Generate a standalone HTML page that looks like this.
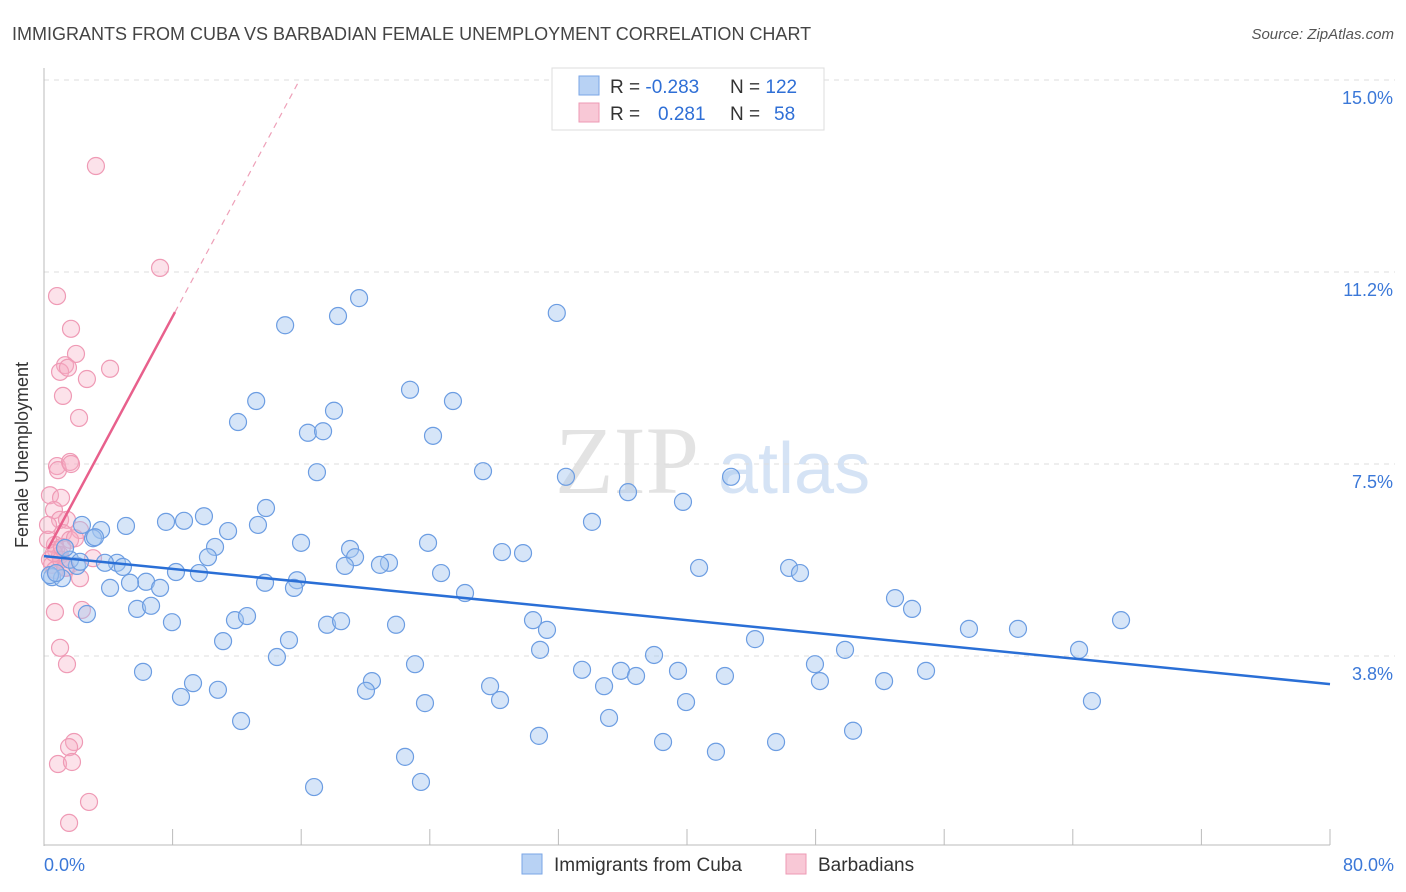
<!DOCTYPE html>
<html><head><meta charset="utf-8"><style>
body{margin:0;background:#fff;font-family:"Liberation Sans",sans-serif;}
#wrap{position:relative;width:1406px;height:892px;overflow:hidden;}
</style></head><body>
<div id="wrap">
<svg id="svg" width="1406" height="892" xmlns="http://www.w3.org/2000/svg" font-family="Liberation Sans, sans-serif">
<text x="12" y="40" font-size="18" fill="#444">IMMIGRANTS FROM CUBA VS BARBADIAN FEMALE UNEMPLOYMENT CORRELATION CHART</text>
<text x="1394" y="39" font-size="15" fill="#555" font-style="italic" text-anchor="end">Source: ZipAtlas.com</text>
<g>
<text x="555" y="493" font-size="96" fill="#d8d8d8" font-family="Liberation Serif, serif" opacity="0.7">ZIP</text>
<text x="718" y="493" font-size="72" fill="#c4d8f2" opacity="0.7">atlas</text>
</g>
<g id="grid"></g>
<g id="axes"></g>
<g id="pts"></g>
<g id="lines"></g>
<text x="28" y="455" font-size="18" fill="#333" transform="rotate(-90 28 455)" text-anchor="middle">Female Unemployment</text>
<g>
<rect x="552" y="68" width="272" height="62" fill="#fff" stroke="#ddd"/>
<rect x="579" y="76" width="20" height="19" fill="#b8d2f4" stroke="#7aa6e6"/>
<rect x="579" y="103" width="20" height="19" fill="#f8c8d6" stroke="#ee9ab4"/>
<text x="610" y="93" font-size="19" fill="#333">R = <tspan fill="#2f6fd6">-0.283</tspan></text>
<text x="730" y="93" font-size="19" fill="#333">N = <tspan fill="#2f6fd6">122</tspan></text>
<text x="610" y="120" font-size="19" fill="#333">R = <tspan fill="#2f6fd6" x="658">0.281</tspan></text>
<text x="730" y="120" font-size="19" fill="#333">N = <tspan fill="#2f6fd6" x="774">58</tspan></text>
</g>
<g>
<rect x="522" y="854" width="20" height="20" fill="#b8d2f4" stroke="#7aa6e6"/>
<text x="554" y="871" font-size="19" fill="#333">Immigrants from Cuba</text>
<rect x="786" y="854" width="20" height="20" fill="#f8c8d6" stroke="#ee9ab4"/>
<text x="818" y="871" font-size="19" fill="#333">Barbadians</text>
</g>
</svg>
</div>
<script>
const xTicks=[0,8,16,24,32,40,48,56,64,72,80];
const yGrid=[15,11.25,7.5,3.75];
const yLabels=["15.0%","11.2%","7.5%","3.8%"];
const xLabels=["0.0%","80.0%"];
const cubaX=[15.0,18.29,19.6,31.9,13.2,12.07,18.04,16.42,17.36,22.77,25.44,24.2,16.98,27.31,32.47,42.74,36.33,39.75,13.81,9.95,7.59,8.71,5.1,3.55,2.36,3.05,13.31,11.45,34.09,15.99,10.64,10.2,4.54,4.91,3.79,2.05,0.5,1.12,19.04,19.35,18.72,21.46,20.9,23.89,28.49,29.8,40.75,46.35,47.03,8.21,9.64,6.35,5.35,7.22,4.11,13.75,15.74,15.55,24.7,26.19,5.79,6.66,2.67,7.96,11.88,12.63,17.61,18.48,21.9,30.42,31.29,52.94,54.0,57.54,60.59,67.0,15.24,11.14,44.23,49.83,64.39,37.95,30.86,14.49,23.08,6.16,33.47,35.89,36.83,39.44,42.36,47.96,48.27,54.87,52.26,9.27,8.52,10.82,20.4,20.03,27.75,28.37,34.84,39.94,23.7,65.19,12.26,35.15,30.79,38.51,41.8,45.54,50.33,22.46,16.8,23.45,0.37,1.62,1.31,2.24,0.75,3.17];
const cubaY=[10.21,10.39,10.74,10.45,8.73,8.32,8.54,8.11,8.14,8.95,8.73,8.05,7.34,7.36,7.25,7.25,6.95,6.76,6.64,6.48,6.37,6.39,6.29,6.21,6.31,6.05,6.31,6.19,6.37,5.96,5.88,5.68,5.57,5.49,5.57,5.51,5.29,5.27,5.84,5.68,5.51,5.57,5.53,5.96,5.78,5.76,5.47,5.47,5.37,5.39,5.37,5.2,5.18,5.08,5.08,5.18,5.23,5.08,5.37,4.98,4.67,4.73,4.57,4.41,4.45,4.53,4.36,4.43,4.36,4.45,4.26,4.88,4.67,4.28,4.28,4.45,4.06,4.04,4.08,3.87,3.87,3.77,3.87,3.73,3.59,3.44,3.48,3.46,3.36,3.46,3.36,3.59,3.26,3.46,3.26,3.22,2.95,3.09,3.26,3.07,3.16,2.89,3.16,2.85,2.83,2.87,2.48,2.54,2.19,2.07,1.88,2.07,2.29,1.78,1.19,1.29,5.33,5.63,5.86,5.59,5.37,6.07];
const barbX=[3.23,7.22,0.81,1.68,1.99,1.31,1.0,1.49,4.11,2.67,1.18,2.18,0.81,0.87,1.62,1.68,0.37,1.06,0.62,1.0,1.43,2.24,1.18,1.62,0.68,0.75,1.0,0.37,0.5,0.68,1.06,1.37,0.25,1.93,3.05,2.24,0.68,2.36,1.0,1.43,1.87,1.56,0.87,1.74,2.8,1.56,1.31,0.62,0.25,1.12];
const barbY=[13.32,11.33,10.78,10.14,9.65,9.43,9.3,9.38,9.36,9.16,8.83,8.4,7.46,7.38,7.54,7.5,6.89,6.84,6.6,6.41,6.41,6.21,6.15,6.02,5.92,5.82,5.72,5.63,5.53,5.43,5.63,5.47,6.02,6.05,5.66,5.27,4.61,4.65,3.91,3.59,2.07,1.97,1.64,1.68,0.9,0.49,5.47,5.76,6.31,5.88];
const cubaTrend=[5.70,3.20];
const barbTrend=[5.70,0.585];
const barbSolidEnd=8.15;

const X0=44,X1=1330,Y0=848,PPY=51.2;
const sx=v=>X0+(X1-X0)*v/80;
const sy=v=>Y0-v*PPY;
const NS="http://www.w3.org/2000/svg";
function mk(tag,attrs,parent){const e=document.createElementNS(NS,tag);for(const k in attrs)e.setAttribute(k,attrs[k]);document.getElementById(parent).appendChild(e);return e;}
yGrid.forEach((v,i)=>{
 const l=mk('line',{x1:44,x2:1395,y1:sy(v),y2:sy(v),stroke:'#ddd','stroke-dasharray':'5,5'},'grid');
 
 
 const t=mk('text',{x:1393,y:sy(v)+24,'font-size':18,fill:'#3b78d8','text-anchor':'end'},'grid');
 t.textContent=yLabels[i];
 
 
});
const ya=mk('line',{x1:44,x2:44,y1:68,y2:846,stroke:'#bbb'},'axes');


const xa=mk('line',{x1:44,x2:1330,y1:845,y2:845,stroke:'#bbb'},'axes');


xTicks.forEach(v=>{
 const t=mk('line',{x1:sx(v),x2:sx(v),y1:829,y2:845,stroke:'#bbb'},'axes');
 
 
});
[[0,'start',44],[80,'end',1394]].forEach((a,i)=>{
 const t=mk('text',{x:a[2],y:871,'font-size':18,fill:'#3b78d8','text-anchor':a[1]},'axes');
 t.textContent=xLabels[i];
 
 
});
barbX.forEach((v,i)=>{
 const c=mk('circle',{cx:sx(v),cy:sy(barbY[i]),r:8.5,fill:'rgba(246,172,196,0.35)',stroke:'#ef9ab5','stroke-width':1.2},'pts');
 
 
});
cubaX.forEach((v,i)=>{
 const c=mk('circle',{cx:sx(v),cy:sy(cubaY[i]),r:8.5,fill:'rgba(165,198,240,0.45)',stroke:'#6c9de2','stroke-width':1.2},'pts');
 
 
});
const bl=mk('line',{x1:sx(0),y1:sy(cubaTrend[0]),x2:sx(80),y2:sy(cubaTrend[1]),stroke:'#2a6fd6','stroke-width':2.5},'lines');


const pf=x=>barbTrend[0]+barbTrend[1]*x;
const pl=mk('line',{x1:sx(0.25),y1:sy(pf(0.25)),x2:sx(barbSolidEnd),y2:sy(pf(barbSolidEnd)),stroke:'#e8608c','stroke-width':2.5},'lines');


const xEnd=(15-barbTrend[0])/barbTrend[1];
const pd=mk('line',{x1:sx(barbSolidEnd),y1:sy(pf(barbSolidEnd)),x2:sx(xEnd),y2:sy(15),stroke:'#eea0b8','stroke-width':1.2,'stroke-dasharray':'6,5'},'lines');


</script>
</body></html>
